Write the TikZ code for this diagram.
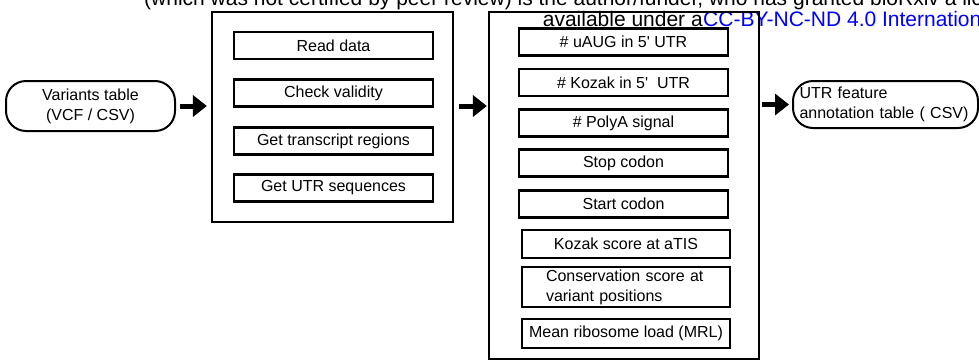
\documentclass[tikz,border=0pt]{standalone}
\usepackage{fontspec}
\setmainfont{Liberation Sans}
\usetikzlibrary{positioning,arrows.meta}

\begin{document}
\begin{tikzpicture}[x=1pt,y=-1pt,>={Triangle[length=14pt,width=21pt]},
  font=\fontsize{16}{20}\selectfont,
  io/.style={draw,line width=2pt,rounded corners=20pt,inner sep=0pt},
  group/.style={draw,line width=2.2pt,inner sep=0pt},
  stepbox/.style={draw,line width=2.6pt,minimum height=27pt,inner sep=0pt,align=center},
  flow/.style={->,line width=5pt},
  mark text/.style={inner sep=0pt,font=\fontsize{21}{23}\selectfont}]
\useasboundingbox (0,0) rectangle (979,362);
\clip (0,0) rectangle (979,362);
% preprint watermark
\node[mark text,anchor=base west] (wmtop) at (144,5) {(which was not certified by peer review) is the author/funder, who has granted bioRxiv a license to display the preprint};
\node[mark text,anchor=base west,text=blue] (wmlic) at (703,26) {CC-BY-NC-ND 4.0 International license};
\node[mark text,anchor=base east] (wmleft) at (wmlic.base west) {available under a};
% input and output
\node[io,minimum width=169pt,minimum height=50pt,align=center] (vcf) at (90.5,106) {Variants table\\(VCF / CSV)};
\node[io,minimum width=185pt,minimum height=47pt,text width=172pt,align=left] (utr) at (885.5,104.5) {UTR feature\\annotation table ( CSV)};
% preprocessing
\node[group,minimum width=241pt,minimum height=210pt] (prep) at (332.5,117) {};
\node[stepbox,minimum width=199pt] (read) at (333.5,45.5) {Read data};
\node[stepbox,minimum width=199pt] (check) at (333.5,93) {Check validity};
\node[stepbox,minimum width=199pt] (regions) at (333.5,141) {Get transcript regions};
\node[stepbox,minimum width=199pt] (seqs) at (333.5,188) {Get UTR sequences};
% features
\node[group,minimum width=270pt,minimum height=347pt] (feat) at (624,185.5) {};
\node[stepbox,minimum width=209pt] (uaug) at (623.5,42) {\# uAUG in 5\textquotesingle\ UTR};
\node[stepbox,minimum width=209pt] (kozak) at (623.5,82.5) {\# Kozak in 5\textquotesingle\ \ UTR};
\node[stepbox,minimum width=209pt] (polya) at (623.5,123) {\# PolyA signal};
\node[stepbox,minimum width=209pt] (stop) at (623.5,163) {Stop codon};
\node[stepbox,minimum width=209pt] (start) at (623.5,204) {Start codon};
\node[stepbox,minimum width=208pt,minimum height=28pt] (kscore) at (626,244) {Kozak score at aTIS};
\node[stepbox,minimum width=208pt,minimum height=40pt,text width=160pt,align=left] (cons) at (626,287) {Conservation score at\\variant positions};
\node[stepbox,minimum width=208pt,minimum height=29pt] (mrl) at (626,333.5) {Mean ribosome load (MRL)};
% flow
\draw[flow,shorten <=4pt,shorten >=4pt] (vcf.east) -- (vcf.east -| prep.west);
\draw[flow,shorten <=5pt,shorten >=1pt] (prep.east |- vcf.east) -- (vcf.east -| feat.west);
\draw[flow,shorten <=2pt,shorten >=3pt] (feat.east |- utr.west) -- (utr.west);
\end{tikzpicture}
\end{document}
